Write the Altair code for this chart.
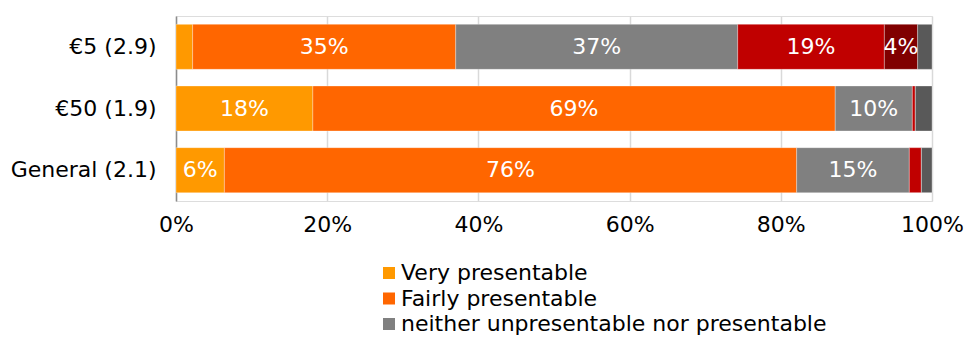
import altair as alt
import pandas as pd

categories = ["€5 (2.9)", "€50 (1.9)", "General (2.1)"]
series = ["Very presentable", "Fairly presentable",
          "neither unpresentable nor presentable",
          "Fairly unpresentable", "Very unpresentable", "Don't know"]
very = [2.2, 18.1, 6.4]
fairly = [34.8, 69.1, 75.7]
neither = [37.3, 10.2, 14.9]
fairly_un = [19.4, 0.4, 1.6]
very_un = [4.4, 0.0, 0.0]
dont_know = [1.9, 2.2, 1.4]
colors = ["#FF9900", "#FF6600", "#808080", "#C00000", "#800000", "#595959"]
legend_shown = series[:3]
tick_values = [0, 0.2, 0.4, 0.6, 0.8, 1.0]

rows = []
for si, vals in enumerate([very, fairly, neither, fairly_un, very_un, dont_know]):
    for ci, cat in enumerate(categories):
        rows.append({"cat": cat, "series": series[si], "order": si, "value": vals[ci] / 100.0})
df = pd.DataFrame(rows)

FONT = "DejaVu Sans"
FS = 22

base = alt.Chart(df).transform_stack(
    stack="value", groupby=["cat"], as_=["x0", "x1"],
    sort=[alt.SortField("order", order="ascending")]
).transform_calculate(
    mid="(datum.x0 + datum.x1) / 2",
    label="format(datum.value * 100, '.0f') + '%'"
)

ysc = alt.Scale(domain=categories, paddingInner=0.27, paddingOuter=0.135)
xsc = alt.Scale(domain=[0, 1], nice=False)

yaxis = alt.Axis(title=None, ticks=False, labelFontSize=FS, labelFont=FONT,
                 labelColor="#000000", labelPadding=20, domain=True,
                 domainColor="#8C8C8C", domainWidth=1.5, grid=False)
xaxis = alt.Axis(title=None, values=tick_values, format="%", ticks=False,
                 domain=False, grid=True, gridColor="#D9D9D9", gridWidth=1.5,
                 labelFontSize=FS, labelFont=FONT, labelColor="#000000",
                 labelPadding=13, labelFlush=False)

bars = base.mark_bar(stroke="white", strokeWidth=0.6, strokeOpacity=0.5).encode(
    y=alt.Y("cat:N", scale=ysc, sort=categories, axis=yaxis),
    x=alt.X("x0:Q", scale=xsc, axis=xaxis),
    x2="x1:Q",
    color=alt.Color("series:N", scale=alt.Scale(domain=series, range=colors),
                    legend=alt.Legend(title=None, values=legend_shown, orient="none",
                                      legendX=202, legendY=246, symbolType="square",
                                      symbolSize=144, symbolStrokeWidth=0,
                                      labelFontSize=FS, labelFont=FONT,
                                      labelColor="#000000", labelOffset=1,
                                      rowPadding=3.5, labelLimit=600, padding=0)),
)

texts = base.transform_filter("datum.value >= 0.03").mark_text(
    color="white", fontSize=FS, font=FONT, baseline="middle", align="center"
).encode(
    y=alt.Y("cat:N", scale=ysc, sort=categories, axis=yaxis),
    x=alt.X("mid:Q", scale=xsc, axis=xaxis),
    text="label:N",
)

chart = alt.layer(bars, texts).properties(
    width=756, height=185,
    padding={"left": 176, "top": 16, "right": 35, "bottom": 137},
    autosize=alt.AutoSizeParams(type="none"),
).configure_view(strokeWidth=0, stroke="transparent").configure(background="white")

chart.save("out.html", embed_options={"renderer": "svg", "actions": False})
